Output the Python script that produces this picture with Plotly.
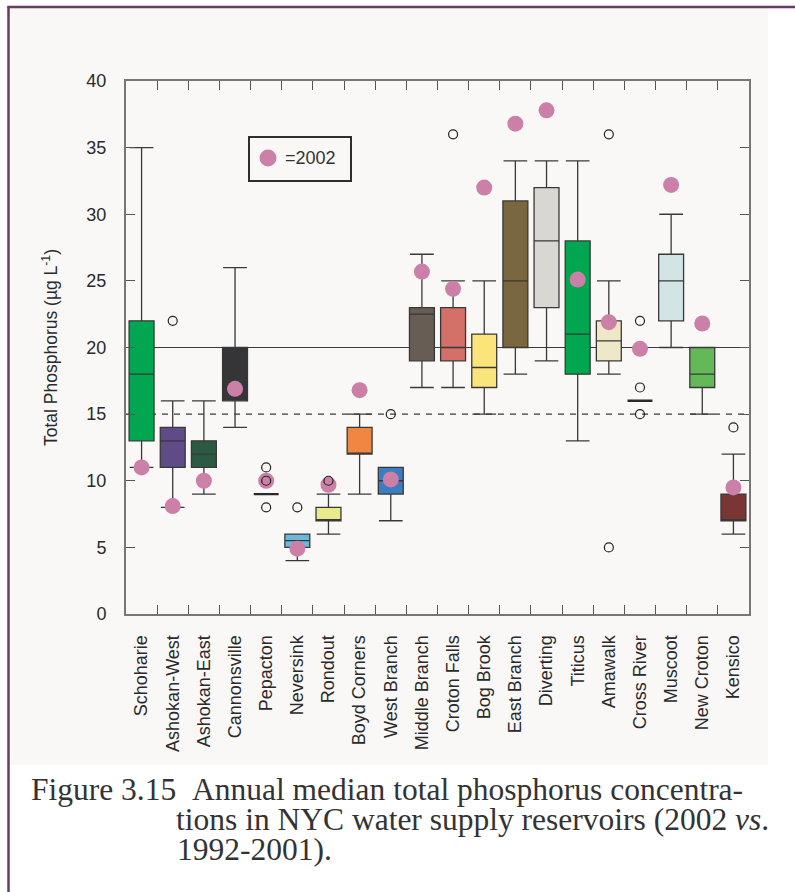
import plotly.graph_objects as go

# Reservoirs (left to right)
reservoirs = [
    "Schoharie", "Ashokan-West", "Ashokan-East", "Cannonsville", "Pepacton",
    "Neversink", "Rondout", "Boyd Corners", "West Branch", "Middle Branch",
    "Croton Falls", "Bog Brook", "East Branch", "Diverting", "Titicus",
    "Amawalk", "Cross River", "Muscoot", "New Croton", "Kensico",
]

# 1992-2001 annual medians: box-plot statistics (µg/L)
whisker_low = [11, 8, 9, 14, 9, 4, 6, 9, 7, 17, 17, 15, 18, 19, 13, 18, 16, 20, 15, 6]
q1 =          [13, 11, 11, 16, 9, 5, 7, 12, 9, 19, 19, 17, 20, 23, 18, 19, 16, 22, 17, 7]
median =      [18, 13, 12, 17.5, 9, 5.5, 7, 12, 10, 22.5, 20, 18.5, 25, 28, 21, 20.5, 16, 25, 18, 7]
q3 =          [22, 14, 13, 20, 9, 6, 8, 14, 11, 23, 23, 21, 31, 32, 28, 22, 16, 27, 20, 9]
whisker_high = [35, 16, 16, 26, 9, 6, 9, 15, 11, 27, 25, 25, 34, 34, 34, 25, 16, 30, 20, 12]

box_colors = [
    "#00a650", "#5f4b86", "#2b5a43", "#353437", "#2a2a2a",
    "#6cb8d8", "#e8ea8c", "#ef8742", "#3c7cc0", "#675d55",
    "#d37067", "#fbe57a", "#7b673f", "#d8d7d1", "#00a650",
    "#efe8c8", "#2a2a2a", "#d2e4e3", "#63b857", "#7a3535",
]

# Outlying annual medians
outlier_site = ["Ashokan-West", "Pepacton", "Pepacton", "Pepacton", "Neversink",
                "Rondout", "West Branch", "Croton Falls", "Amawalk", "Amawalk",
                "Cross River", "Cross River", "Cross River", "Kensico"]
outlier_value = [22, 11, 10, 8, 8, 10, 15, 36, 36, 5, 22, 17, 15, 14]

# 2002 annual medians
tp_2002 = [11, 8.1, 10, 16.9, 10, 4.9, 9.7, 16.8, 10.1, 25.7,
           24.4, 32, 36.8, 37.8, 25.1, 21.9, 19.9, 32.2, 21.8, 9.5]

# Guideline levels
solid_level = 20
dashed_level = 15

y_ticks = [0, 5, 10, 15, 20, 25, 30, 35, 40]

W, H = 795, 892
PX0, PX1, PY0, PY1 = 126, 749, 81, 614  # plot area in page pixels


def fx(px):
    return (px - PX0) / (PX1 - PX0)


def fy(py):
    return (PY1 - py) / (PY1 - PY0)


fig = go.Figure()

for i, name in enumerate(reservoirs):
    collapsed = q1[i] == q3[i]
    fig.add_trace(go.Box(
        x=[name], q1=[q1[i]], median=[median[i]], q3=[q3[i]],
        lowerfence=[whisker_low[i]], upperfence=[whisker_high[i]],
        fillcolor=box_colors[i],
        line=dict(color="#2a2a2a" if collapsed else "#383838",
                  width=2.4 if collapsed else 1.3),
        width=0.8, whiskerwidth=0.95, boxpoints=False,
        showlegend=False, hoverinfo="skip",
    ))

fig.add_trace(go.Scatter(
    x=reservoirs, y=tp_2002, mode="markers",
    marker=dict(size=16, color="#cc80a8", line=dict(width=0)),
    showlegend=False, hoverinfo="skip",
))

fig.add_trace(go.Scatter(
    x=outlier_site, y=outlier_value, mode="markers",
    marker=dict(size=9, color="rgba(255,255,255,0)",
                line=dict(width=1.2, color="#222")),
    showlegend=False, hoverinfo="skip",
))

shapes = [
    # light panel behind the chart
    dict(type="rect", xref="paper", yref="paper", layer="below",
         x0=fx(9), x1=fx(768), y0=fy(8), y1=fy(765),
         fillcolor="#f9f8f6", line=dict(width=0)),
    # guideline levels
    dict(type="line", xref="paper", yref="y", layer="below",
         x0=0, x1=1, y0=solid_level, y1=solid_level,
         line=dict(color="#3a3a3a", width=1.2)),
    dict(type="line", xref="paper", yref="y", layer="below",
         x0=0, x1=1, y0=dashed_level, y1=dashed_level,
         line=dict(color="#3a3a3a", width=1.2, dash="6px,6px")),
    # page frame
    dict(type="line", xref="paper", yref="paper",
         x0=fx(8.5), x1=fx(8.5), y0=fy(6), y1=fy(892),
         line=dict(color="#6a3b60", width=2.5)),
    dict(type="line", xref="paper", yref="paper",
         x0=fx(7.5), x1=fx(795), y0=fy(7), y1=fy(7),
         line=dict(color="#6a3b60", width=2.5)),
    # key box
    dict(type="rect", xref="paper", yref="paper",
         x0=fx(249), x1=fx(351), y0=fy(137), y1=fy(181),
         fillcolor="rgba(0,0,0,0)", line=dict(color="#2e2e2e", width=2)),
    dict(type="circle", xref="paper", yref="paper",
         x0=fx(259.5), x1=fx(276.5), y0=fy(149.5), y1=fy(166.5),
         fillcolor="#cc80a8", line=dict(width=0)),
]

annotations = [
    dict(text="=2002", xref="paper", yref="paper", x=fx(283), y=fy(158),
         xanchor="left", yanchor="middle", showarrow=False,
         font=dict(family="Liberation Sans, Arial", size=18, color="#333")),
]

# Caption: tightly leaded lines, each in its own fixed-height text box
caption_font = dict(family="Liberation Serif, Times New Roman", size=31.5, color="#333")
caption_lines = [
    (30, 777, "Figure 3.15&nbsp;&nbsp;Annual median total phosphorus concentra-"),
    (175, 807, "tions in NYC water supply reservoirs (2002 <i>vs</i>."),
    (176, 837, "1992-2001)."),
]
for cx, ctop, txt in caption_lines:
    annotations.append(dict(text=txt, xref="paper", yref="paper", x=fx(cx), y=fy(ctop),
                            xanchor="left", yanchor="top", height=29, valign="bottom",
                            borderpad=0, showarrow=False, font=caption_font))

fig.update_layout(
    width=W, height=H,
    margin=dict(l=PX0, r=W - PX1, t=PY0, b=H - PY1, pad=0),
    paper_bgcolor="white",
    plot_bgcolor="rgba(0,0,0,0)",
    boxmode="overlay",
    shapes=shapes,
    annotations=annotations,
    xaxis=dict(
        type="category", categoryorder="array", categoryarray=reservoirs,
        range=[-0.5, len(reservoirs) - 0.5],
        tickson="boundaries", ticks="inside", ticklen=9, tickcolor="#555", tickwidth=1.3,
        showline=True, linecolor="#777", linewidth=2, mirror="ticks",
        tickangle=-90, tickfont=dict(family="Liberation Sans, Arial", size=18, color="#2a2a2a"),
        ticklabelstandoff=12, showgrid=False, zeroline=False,
    ),
    yaxis=dict(
        range=[0, 40], tickvals=y_ticks, ticktext=[str(v) for v in y_ticks],
        ticks="inside", ticklen=9, tickcolor="#555", tickwidth=1.3,
        showline=True, linecolor="#777", linewidth=2, mirror="ticks",
        tickfont=dict(family="Liberation Sans, Arial", size=18, color="#2a2a2a"),
        ticklabelstandoff=14, showgrid=False, zeroline=False,
        title=dict(text="Total Phosphorus (µg L<sup>-1</sup>)",
                   font=dict(family="Liberation Sans, Arial", size=17.5, color="#2a2a2a"),
                   standoff=24),
    ),
)

fig.write_html("out.html")
